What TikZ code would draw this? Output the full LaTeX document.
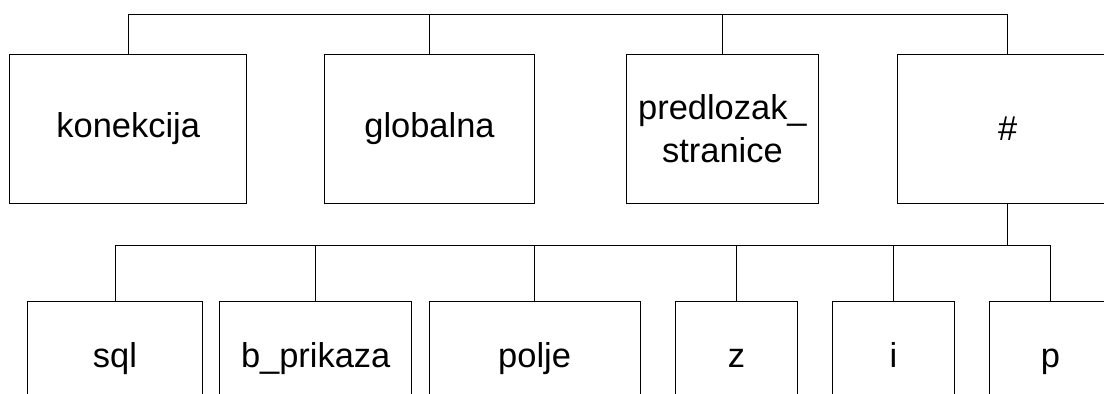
\documentclass[tikz,border=0pt]{standalone}
\usepackage{fontspec}
\setmainfont{Liberation Sans}

\tikzset{
  box/.style={draw, line width=0.7pt, minimum height=3.73cm, inner sep=0pt, align=center},
  leaf/.style={box, minimum height=3.11cm, text height=0.72em, text depth=0.21em},
  link/.style={line width=0.7pt}
}

\begin{document}
\begin{tikzpicture}[x=0.025cm, y=-0.025cm, every node/.style={font=\fontsize{24.5}{30.5}\selectfont}]
\useasboundingbox (0,0) rectangle (1104,394);
\clip (0,0) rectangle (1104,394);
% upper row
\node[box,minimum width=5.91cm] (kon) at (128.2,129) {konekcija};
\node[box,minimum width=5.26cm] (glob) at (429.5,129) {globalna};
\node[box,minimum width=4.80cm] (pred) at (722.4,129) {predlozak\_\\stranice};
\node[box,minimum width=5.50cm] (hash) at (1007.6,129) {\#};
\coordinate (bus1) at (0,14.3);
\draw[link] (kon.north) |- (hash.north |- bus1) -- (hash.north);
\foreach \n in {glob,pred}
  \draw[link] (\n.north) -- (\n.north |- bus1);
% lower row
\node[leaf,minimum width=4.375cm] (sql) at (115,364) {sql};
\node[leaf,minimum width=4.80cm] (bpr) at (315.7,364) {b\_prikaza};
\node[leaf,minimum width=5.27cm] (polje) at (534.6,364) {polje};
\node[leaf,minimum width=3.05cm] (z) at (736.5,364) {z};
\node[leaf,minimum width=3.06cm] (i) at (893.5,364) {i};
\node[leaf,minimum width=3.05cm] (p) at (1050.4,364) {p};
\coordinate (bus2) at (0,245.4);
\draw[link] (hash.south) -- (hash.south |- bus2);
\draw[link] (sql.north) |- (p.north |- bus2) -- (p.north);
\foreach \n in {bpr,polje,z,i}
  \draw[link] (\n.north) -- (\n.north |- bus2);
\end{tikzpicture}
\end{document}
